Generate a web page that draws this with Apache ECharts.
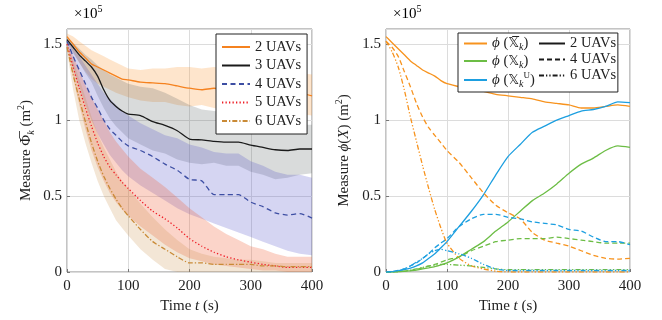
<!DOCTYPE html>
<html><head><meta charset="utf-8">
<script src="https://cdn.jsdelivr.net/npm/echarts@6/dist/echarts.min.js"></script>
<style>html,body{margin:0;padding:0;background:#fff}#c{width:662px;height:320px}</style>
</head><body><div id="c"></div><script>
// time samples (s)
const tL = [0,10,20,30,40,50,60,70,80,90,100,120,140,160,180,200,220,240,260,280,300,320,340,360,380,400];
// left panel: mean and band (x1e5 m^2)
const m2  = [1.55,1.50,1.45,1.41,1.37,1.35,1.33,1.31,1.29,1.27,1.265,1.25,1.245,1.24,1.225,1.21,1.20,1.21,1.20,1.205,1.20,1.19,1.19,1.19,1.18,1.16];
const lo2 = [1.53,1.45,1.38,1.32,1.27,1.24,1.22,1.20,1.18,1.165,1.15,1.13,1.12,1.12,1.10,1.09,1.10,1.08,1.07,1.06,1.07,1.06,1.06,1.05,1.04,1.03];
const hi2 = [1.57,1.55,1.52,1.49,1.46,1.44,1.42,1.40,1.38,1.36,1.34,1.33,1.34,1.34,1.35,1.35,1.34,1.35,1.34,1.35,1.34,1.33,1.33,1.32,1.31,1.30];
const m3  = [1.53,1.48,1.43,1.39,1.35,1.29,1.20,1.13,1.09,1.06,1.04,1.03,0.99,0.965,0.93,0.875,0.87,0.86,0.855,0.855,0.835,0.82,0.805,0.80,0.81,0.81];
const lo3 = [1.51,1.44,1.38,1.31,1.25,1.16,1.08,1.01,0.96,0.92,0.88,0.84,0.80,0.78,0.74,0.72,0.71,0.72,0.70,0.70,0.66,0.64,0.61,0.62,0.64,0.65];
const hi3 = [1.55,1.51,1.47,1.43,1.40,1.36,1.33,1.30,1.28,1.26,1.24,1.22,1.21,1.18,1.14,1.10,1.07,1.06,1.05,1.04,1.02,1.00,0.99,0.98,0.97,0.97];
const m4  = [1.52,1.42,1.33,1.24,1.15,1.08,1.00,0.94,0.90,0.86,0.83,0.80,0.76,0.71,0.67,0.61,0.60,0.51,0.51,0.51,0.46,0.43,0.39,0.375,0.385,0.355];
const lo4 = [1.50,1.34,1.22,1.10,1.00,0.91,0.84,0.77,0.72,0.67,0.63,0.57,0.52,0.47,0.42,0.38,0.35,0.32,0.29,0.26,0.23,0.20,0.17,0.14,0.12,0.11];
const hi4 = [1.53,1.47,1.42,1.36,1.30,1.24,1.18,1.14,1.10,1.06,1.03,0.98,0.94,0.90,0.88,0.84,0.82,0.79,0.78,0.78,0.73,0.70,0.66,0.64,0.64,0.62];
const m5  = [1.50,1.35,1.21,1.08,0.96,0.85,0.76,0.69,0.64,0.59,0.55,0.47,0.40,0.35,0.29,0.22,0.17,0.13,0.10,0.08,0.065,0.05,0.04,0.03,0.03,0.03];
const lo5 = [1.48,1.28,1.10,0.94,0.80,0.69,0.60,0.52,0.46,0.41,0.37,0.30,0.24,0.18,0.13,0.09,0.07,0.05,0.04,0.03,0.02,0.01,0.01,0.0,0.0,0.0];
const hi5 = [1.52,1.42,1.33,1.23,1.15,1.07,1.00,0.92,0.86,0.81,0.76,0.68,0.62,0.56,0.49,0.42,0.36,0.30,0.25,0.21,0.17,0.15,0.12,0.10,0.10,0.10];
const m6  = [1.48,1.30,1.14,0.99,0.85,0.73,0.63,0.55,0.48,0.42,0.37,0.28,0.20,0.15,0.10,0.06,0.06,0.05,0.05,0.05,0.05,0.04,0.04,0.035,0.035,0.035];
const lo6 = [1.45,1.20,1.00,0.85,0.72,0.60,0.50,0.42,0.34,0.29,0.24,0.15,0.08,0.02,0,0,0,0,0,0,0,0,0,0,0,0];
const hi6 = [1.50,1.39,1.27,1.15,1.02,0.91,0.82,0.74,0.66,0.60,0.55,0.45,0.36,0.28,0.21,0.15,0.12,0.10,0.09,0.08,0.08,0.07,0.06,0.06,0.06,0.06];
// right panel
const ro2 = [1.55,1.51,1.47,1.43,1.39,1.36,1.33,1.31,1.29,1.26,1.24,1.22,1.20,1.19,1.17,1.16,1.15,1.14,1.12,1.11,1.10,1.08,1.08,1.09,1.10,1.09];
const rg2 = [0,0,0.002,0.004,0.008,0.012,0.02,0.027,0.035,0.047,0.06,0.10,0.15,0.20,0.27,0.33,0.40,0.47,0.52,0.58,0.65,0.71,0.75,0.80,0.83,0.82];
const rb2 = [0,0.002,0.008,0.015,0.025,0.04,0.06,0.09,0.12,0.16,0.20,0.30,0.40,0.51,0.64,0.76,0.84,0.92,0.96,1.00,1.03,1.06,1.07,1.09,1.12,1.115];
const ro4 = [1.52,1.48,1.42,1.32,1.22,1.11,1.02,0.95,0.90,0.85,0.80,0.72,0.62,0.52,0.44,0.39,0.35,0.26,0.21,0.19,0.17,0.14,0.11,0.09,0.085,0.09];
const rg4 = [0,0,0.002,0.005,0.01,0.018,0.028,0.038,0.05,0.065,0.08,0.10,0.14,0.17,0.20,0.21,0.22,0.22,0.22,0.23,0.22,0.21,0.20,0.19,0.19,0.19];
const rb4 = [0,0.002,0.01,0.02,0.04,0.06,0.09,0.12,0.16,0.19,0.22,0.30,0.35,0.38,0.38,0.36,0.35,0.33,0.32,0.31,0.28,0.27,0.23,0.20,0.20,0.18];
const ro6 = [1.52,1.45,1.35,1.20,1.02,0.86,0.70,0.55,0.41,0.29,0.19,0.09,0.04,0.02,0.005,0,0,0,0,0,0,0,0,0,0,0];
const rg6 = [0,0,0.002,0.006,0.012,0.02,0.03,0.04,0.045,0.05,0.05,0.045,0.04,0.03,0.02,0.015,0.015,0.015,0.015,0.015,0.015,0.015,0.015,0.015,0.015,0.015];
const rb6 = [0,0.002,0.008,0.02,0.04,0.065,0.09,0.12,0.14,0.15,0.14,0.12,0.09,0.05,0.02,0.01,0.01,0.01,0.01,0.01,0.01,0.01,0.01,0.01,0.01,0.01];

const FF = '"Liberation Serif","DejaVu Serif",serif';
const TXT = '#222';
const pair = ys => tL.map((x,i)=>[x, ys[i]]);
const SM = 0.2;

const series = [];
function band(lo, hi, color, gi){
  series.push({type:'custom', xAxisIndex:gi, yAxisIndex:gi, silent:true, z:1, clip:true,
    data: tL.map((x,i)=>[x, lo[i], hi[i]]), encode:{x:0, y:[1,2]},
    renderItem:(params, api)=>{
      if (params.dataIndex !== 0) return null;
      const pts = [];
      for (let i=0;i<tL.length;i++) pts.push(api.coord([tL[i], hi[i]]));
      for (let i=tL.length-1;i>=0;i--) pts.push(api.coord([tL[i], lo[i]]));
      return {type:'polygon', shape:{points:pts}, style:{fill:color, stroke:null}};
    }});
}
function line(name, ys, color, type, gi, w){
  series.push({name:name, type:'line', xAxisIndex:gi, yAxisIndex:gi, data:pair(ys), symbol:'none', smooth:SM, color:color,
    lineStyle:{color:color, width:w||1.3, type:type}, z:3});
}
band(lo2, hi2, 'rgba(250,150,50,0.25)', 0);
band(lo3, hi3, 'rgba(80,92,92,0.22)', 0);
band(lo4, hi4, 'rgba(80,80,200,0.24)', 0);
band(lo5, hi5, 'rgba(240,100,60,0.28)', 0);
band(lo6, hi6, 'rgba(200,140,70,0.22)', 0);
const cO='#f5821f', cK='#1a1a1a', cB='#3d4ea3', cR='#ee1c25', cT='#c98a36';
line('2 UAVs', m2, cO, 'solid', 0);
line('3 UAVs', m3, cK, 'solid', 0);
line('4 UAVs', m4, cB, [5,3.5], 0);
line('5 UAVs', m5, cR, [1.3,2.2], 0);
line('6 UAVs', m6, cT, [5,2,1.3,2], 0);

const rO='#f7931e', rG='#6cbd45', rB='#1d9fe0';
const DASH=[5,3], DDD=[5,2,1.3,2,1.3,2];
line('r_o2', ro2, rO, 'solid', 1); line('r_g2', rg2, rG, 'solid', 1); line('r_b2', rb2, rB, 'solid', 1);
line('r_o4', ro4, rO, DASH, 1); line('r_g4', rg4, rG, DASH, 1); line('r_b4', rb4, rB, DASH, 1);
line('r_o6', ro6, rO, DDD, 1); line('r_g6', rg6, rG, DDD, 1); line('r_b6', rb6, rB, DDD, 1);
// legend-only entries
function legendOnly(name, color, type){
  series.push({name:name, type:'line', xAxisIndex:1, yAxisIndex:1, data:[], symbol:'none', color:color, lineStyle:{color:color, width:1.3, type:type}});
}
legendOnly('phiBar', rO, 'solid'); legendOnly('phi', rG, 'solid'); legendOnly('phiU', rB, 'solid');
legendOnly('u2', cK, 'solid'); legendOnly('u4', cK, DASH); legendOnly('u6', cK, DDD);

const DS = '"DejaVu Sans","DejaVu Serif","Noto Sans",sans-serif';
const rich = {
  i:{fontFamily:FF, fontStyle:'italic', fontSize:15, color:TXT, lineHeight:20},
  n:{fontFamily:FF, fontSize:15, color:TXT, lineHeight:20},
  sub:{fontFamily:FF, fontStyle:'italic', fontSize:10, color:TXT, lineHeight:12, verticalAlign:'bottom'},
  sup:{fontFamily:FF, fontSize:10, color:TXT, lineHeight:12, verticalAlign:'top'}
};
function xAx(gi){
  return {type:'value', gridIndex:gi, min:0, max:400, interval:100,
    axisLine:{show:false}, axisTick:{show:true, inside:true, length:3, lineStyle:{color:'#777'}},
    splitLine:{show:true, lineStyle:{color:'#dcdcdc', width:1}},
    axisLabel:{fontFamily:FF, fontSize:15, color:TXT, margin:7},
    name:'{n|Time }{i|t}{n| (s)}', nameLocation:'middle', nameGap:23, nameTextStyle:{rich:rich}};
}
function yAx(gi, nm, gap){
  return {type:'value', gridIndex:gi, min:0, max:1.6, interval:0.5,
    axisLine:{show:false}, axisTick:{show:true, inside:true, length:3, lineStyle:{color:'#777'}},
    splitLine:{show:true, lineStyle:{color:'#dcdcdc', width:1}},
    axisLabel:{fontFamily:FF, fontSize:15, color:TXT, margin:5, showMaxLabel:false},
    name:nm, nameLocation:'middle', nameGap:gap, nameTextStyle:{rich:rich}};
}
const legendRich = {
  i:{fontFamily:FF, fontStyle:'italic', fontSize:15, color:TXT, lineHeight:18},
  n:{fontFamily:FF, fontSize:14.5, color:TXT, lineHeight:18},
  x:{fontFamily:DS, fontSize:13.5, color:TXT, lineHeight:18},
  sub:{fontFamily:FF, fontStyle:'italic', fontSize:10, color:TXT, lineHeight:11, verticalAlign:'bottom'},
  sup:{fontFamily:FF, fontSize:9, color:TXT, lineHeight:11, verticalAlign:'top'}
};
const legLabels = {
  phiBar:'{i|ϕ}{n| (}{x|𝕏\u0305}{sub|k}{n|)}',
  phi:'{i|ϕ}{n| (}{x|𝕏}{sub|k}{n|)}',
  phiU:'{i|ϕ}{n| (}{x|𝕏}{sub|k}{sup|U}{n|)}',
  u2:'{n|2 UAVs}', u4:'{n|4 UAVs}', u6:'{n|6 UAVs}'
};
const noSym = {opacity:0, borderWidth:0};

const chart = echarts.init(document.getElementById('c'), null, {renderer:'canvas'});
chart.setOption({
  animation:false,
  backgroundColor:'#fff',
  grid:[
    {left:67, top:29, width:245, height:243, show:true, borderColor:'#888', borderWidth:1, backgroundColor:'transparent'},
    {left:386, top:29, width:244, height:243, show:true, borderColor:'#888', borderWidth:1, backgroundColor:'transparent'}
  ],
  xAxis:[xAx(0), xAx(1)],
  yAxis:[yAx(0, '{n|Measure }{n|Φ\u0305}{sub|k}{n| (m}{sup|2}{n|)}', 31), yAx(1, '{n|Measure }{i|ϕ}{n|(}{i|X}{n|) (m}{sup|2}{n|)}', 32)],
  legend:[
    {data:['2 UAVs','3 UAVs','4 UAVs','5 UAVs','6 UAVs'], left:216, top:34, orient:'vertical',
     backgroundColor:'#fff', borderColor:'#222', borderWidth:1, borderRadius:0, padding:[4,6,4,5],
     itemWidth:28, itemHeight:12, itemGap:0.5, selectedMode:false, itemStyle:noSym,
     textStyle:{fontFamily:FF, fontSize:14.5, color:TXT, lineHeight:18}},
    {data:['phiBar','phi','phiU'], left:458, top:33, orient:'vertical',
     backgroundColor:'#fff', borderColor:'#222', borderWidth:1, borderRadius:0, padding:[3,83,3,5],
     itemWidth:23, itemHeight:12, itemGap:1, selectedMode:false, itemStyle:noSym,
     formatter:n=>legLabels[n], textStyle:{rich:legendRich}},
    {data:['u2','u4','u6'], left:533, top:33, orient:'vertical', z:10,
     backgroundColor:'transparent', borderWidth:0, padding:[3,5,3,5],
     itemWidth:26, itemHeight:12, itemGap:1, selectedMode:false, itemStyle:noSym,
     formatter:n=>legLabels[n], textStyle:{rich:legendRich}}
  ],
  graphic:[
    {type:'text', left:74, top:4, style:{text:'{n|×10}{sup|5}', rich:rich}},
    {type:'text', left:393, top:4, style:{text:'{n|×10}{sup|5}', rich:rich}}
  ],
  series:series
});
</script></body></html>
